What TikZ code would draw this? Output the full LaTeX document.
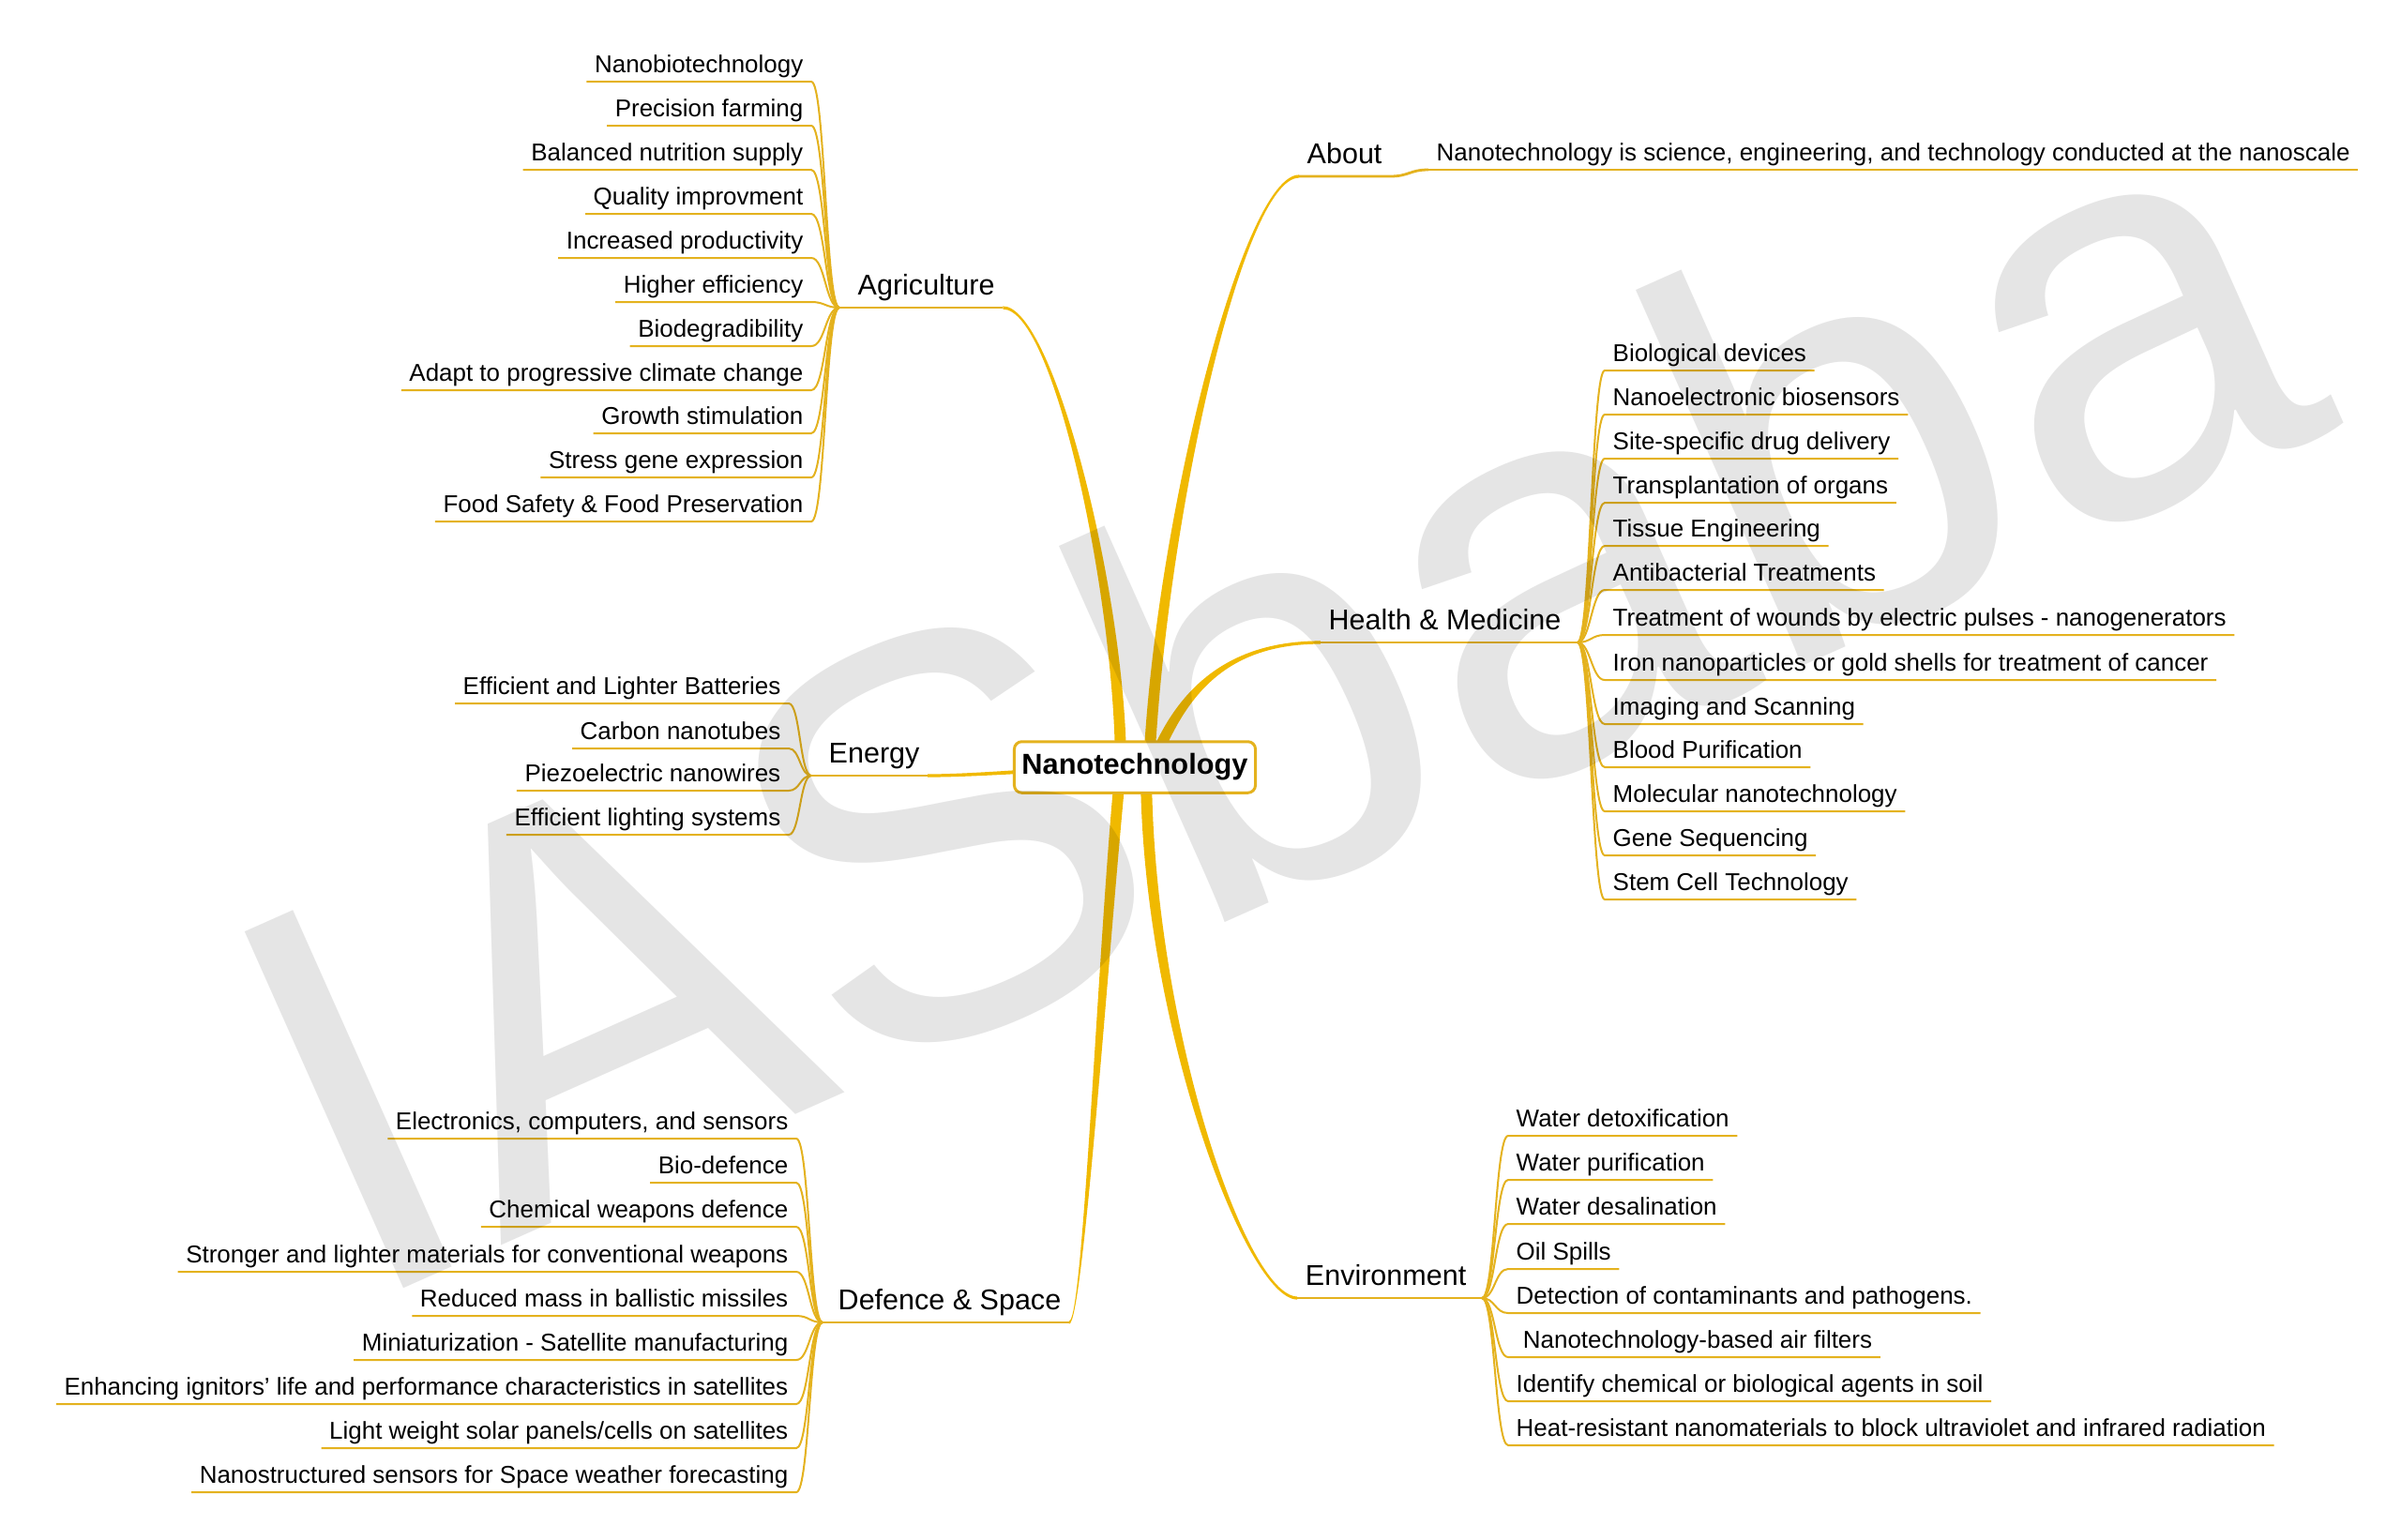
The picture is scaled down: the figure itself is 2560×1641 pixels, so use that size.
\documentclass[tikz,border=0pt]{standalone}
\usepackage{fontspec}
\setmainfont{Liberation Sans}
\usetikzlibrary{calc}

\definecolor{mmgold}{RGB}{240,185,0}
\definecolor{mmline}{RGB}{228,178,30}

\newcommand{\leaffont}{\fontsize{7.38}{8.8}\selectfont}
\newcommand{\topicfont}{\fontsize{8.68}{10.4}\selectfont}
\newcommand{\hubfont}{\fontsize{8.75}{10.5}\selectfont\bfseries}

% tapered main branch: label end, control (rel. to end), control (rel. to root), root, half width at root
\newcommand{\gbranch}[5]{%
  \fill[mmgold] ($(#1)+(0,-1.6)$) .. controls ($(#1)+(#2)+(0,-1.6)$) and ($(#4)+(#3)+(#5)$) .. ($(#4)+(#5)$)
    -- ($(#4)-(#5)$) .. controls ($(#4)+(#3)-(#5)$) and ($(#1)+(#2)+(0,1.6)$) .. ($(#1)+(0,1.6)$) -- cycle;}

\tikzset{
  leaf/.style={font=\leaffont, inner xsep=0.08cm, inner ysep=0.02cm, text height=0.194cm, text depth=0.065cm},
  leafline/.style={draw=mmline, line width=0.02cm},
  topic/.style={font=\topicfont, inner xsep=0.08cm, inner ysep=0.05cm, text height=0.229cm, text depth=0.076cm},
  topicline/.style={draw=mmline, line width=0.028cm},
  hubbox/.style={font=\hubfont, draw=mmline, line width=0.03cm, fill=white, rounded corners=0.08cm,
    inner xsep=0.08cm, inner ysep=0.12cm, text height=0.229cm, text depth=0.076cm}
}

\begin{document}
\begin{tikzpicture}[x=0.01cm, y=-0.01cm]
  \fill[white] (0,0) rectangle (2560,1641);
  \useasboundingbox (0,0) rectangle (2560,1641);

  % Hub and branch roots
  \coordinate (hub) at (1210,818);
  \coordinate (agrR) at ($(hub)+(-15,0)$);
  \coordinate (aboR) at ($(hub)+(15,0)$);
  \coordinate (heaR) at ($(hub)+(18,0)$);
  \coordinate (envR) at ($(hub)+(12,0)$);
  \coordinate (defR) at ($(hub)+(-15,0)$);
  \coordinate (enR) at ($(hub)+(-10,0)$);

  % Topic labels
  \node[topic, anchor=south west] (agr) at (906,328) {Agriculture};
  \coordinate (agrJ) at (895,328);
  \node[topic, anchor=south west] (about) at (1385,188) {About};
  \node[leaf, anchor=south west] (desc) at (1523,181) {Nanotechnology is science, engineering, and technology conducted at the nanoscale};
  \node[topic, anchor=south east] (hea) at (1673,685) {Health \& Medicine};
  \coordinate (heaJ) at (1682,685);
  \node[topic, anchor=south west] (en) at (875,827) {Energy};
  \coordinate (enJ) at (865,827);
  \node[topic, anchor=south east] (env) at (1572,1384) {Environment};
  \coordinate (envJ) at (1580,1384);
  \node[topic, anchor=south west] (def) at (885,1410) {Defence \& Space};
  \coordinate (defJ) at (877,1410);

  % Drawing main branches
  \gbranch{agr.south east}{55,0}{0,-178}{agrR}{6,0}
  \gbranch{about.south west}{-60,0}{12,-260}{aboR}{-6,0}
  \gbranch{hea.south west}{-100,0}{30,-80}{heaR}{-5.5,-2.3}
  \gbranch{env.south west}{-55,0}{0,270}{envR}{6,0}
  \gbranch{def.south east}{15,0}{-18,180}{defR}{-6,0}
  \gbranch{en.south east}{60,0}{-60,0}{enR}{0,-2.5}

  % Topic underlines
  \draw[topicline] (agrJ) -- (agr.south east);
  \draw[topicline] (about.south west) -- (about.south east) .. controls +(20,0) and +(-20,0) .. (desc.south west);
  \draw[leafline] (desc.south west) -- (desc.south east);
  \draw[topicline] (hea.south west) -- (heaJ);
  \draw[topicline] (enJ) -- (en.south east);
  \draw[topicline] (env.south west) -- (envJ);
  \draw[topicline] (defJ) -- (def.south east);

  % Agriculture leaves
  \node[leaf, anchor=south east] (a1) at (865,87) {Nanobiotechnology};
  \node[leaf, anchor=south east] (a2) at (865,134) {Precision farming};
  \node[leaf, anchor=south east] (a3) at (865,181) {Balanced nutrition supply};
  \node[leaf, anchor=south east] (a4) at (865,228) {Quality improvment};
  \node[leaf, anchor=south east] (a5) at (865,275) {Increased productivity};
  \node[leaf, anchor=south east] (a6) at (865,322) {Higher efficiency};
  \node[leaf, anchor=south east] (a7) at (865,369) {Biodegradibility};
  \node[leaf, anchor=south east] (a8) at (865,416) {Adapt to progressive climate change};
  \node[leaf, anchor=south east] (a9) at (865,462) {Growth stimulation};
  \node[leaf, anchor=south east] (a10) at (865,509) {Stress gene expression};
  \node[leaf, anchor=south east] (a11) at (865,556) {Food Safety \& Food Preservation};
  \draw[leafline] (a1.south west) -- (a1.south east) .. controls +(15,0) and +(-15,0) .. (agrJ);
  \draw[leafline] (a2.south west) -- (a2.south east) .. controls +(15,0) and +(-15,0) .. (agrJ);
  \draw[leafline] (a3.south west) -- (a3.south east) .. controls +(15,0) and +(-15,0) .. (agrJ);
  \draw[leafline] (a4.south west) -- (a4.south east) .. controls +(15,0) and +(-15,0) .. (agrJ);
  \draw[leafline] (a5.south west) -- (a5.south east) .. controls +(15,0) and +(-15,0) .. (agrJ);
  \draw[leafline] (a6.south west) -- (a6.south east) .. controls +(15,0) and +(-15,0) .. (agrJ);
  \draw[leafline] (a7.south west) -- (a7.south east) .. controls +(15,0) and +(-15,0) .. (agrJ);
  \draw[leafline] (a8.south west) -- (a8.south east) .. controls +(15,0) and +(-15,0) .. (agrJ);
  \draw[leafline] (a9.south west) -- (a9.south east) .. controls +(15,0) and +(-15,0) .. (agrJ);
  \draw[leafline] (a10.south west) -- (a10.south east) .. controls +(15,0) and +(-15,0) .. (agrJ);
  \draw[leafline] (a11.south west) -- (a11.south east) .. controls +(15,0) and +(-15,0) .. (agrJ);

  % Energy leaves
  \node[leaf, anchor=south east] (e1) at (841,750) {Efficient and Lighter Batteries};
  \node[leaf, anchor=south east] (e2) at (841,798) {Carbon nanotubes};
  \node[leaf, anchor=south east] (e3) at (841,843) {Piezoelectric nanowires};
  \node[leaf, anchor=south east] (e4) at (841,890) {Efficient lighting systems};
  \draw[leafline] (e1.south west) -- (e1.south east) .. controls +(12,0) and +(-12,0) .. (enJ);
  \draw[leafline] (e2.south west) -- (e2.south east) .. controls +(12,0) and +(-12,0) .. (enJ);
  \draw[leafline] (e3.south west) -- (e3.south east) .. controls +(12,0) and +(-12,0) .. (enJ);
  \draw[leafline] (e4.south west) -- (e4.south east) .. controls +(12,0) and +(-12,0) .. (enJ);

  % Defence & Space leaves
  \node[leaf, anchor=south east] (d1) at (849,1214) {Electronics, computers, and sensors};
  \node[leaf, anchor=south east] (d2) at (849,1261) {Bio-defence};
  \node[leaf, anchor=south east] (d3) at (849,1308) {Chemical weapons defence};
  \node[leaf, anchor=south east] (d4) at (849,1356) {Stronger and lighter materials for conventional weapons};
  \node[leaf, anchor=south east] (d5) at (849,1403) {Reduced mass in ballistic missiles};
  \node[leaf, anchor=south east] (d6) at (849,1450) {Miniaturization - Satellite manufacturing};
  \node[leaf, anchor=south east] (d7) at (849,1497) {Enhancing ignitors’ life and performance characteristics in satellites};
  \node[leaf, anchor=south east] (d8) at (849,1544) {Light weight solar panels/cells on satellites};
  \node[leaf, anchor=south east] (d9) at (849,1591) {Nanostructured sensors for Space weather forecasting};
  \draw[leafline] (d1.south west) -- (d1.south east) .. controls +(14,0) and +(-14,0) .. (defJ);
  \draw[leafline] (d2.south west) -- (d2.south east) .. controls +(14,0) and +(-14,0) .. (defJ);
  \draw[leafline] (d3.south west) -- (d3.south east) .. controls +(14,0) and +(-14,0) .. (defJ);
  \draw[leafline] (d4.south west) -- (d4.south east) .. controls +(14,0) and +(-14,0) .. (defJ);
  \draw[leafline] (d5.south west) -- (d5.south east) .. controls +(14,0) and +(-14,0) .. (defJ);
  \draw[leafline] (d6.south west) -- (d6.south east) .. controls +(14,0) and +(-14,0) .. (defJ);
  \draw[leafline] (d7.south west) -- (d7.south east) .. controls +(14,0) and +(-14,0) .. (defJ);
  \draw[leafline] (d8.south west) -- (d8.south east) .. controls +(14,0) and +(-14,0) .. (defJ);
  \draw[leafline] (d9.south west) -- (d9.south east) .. controls +(14,0) and +(-14,0) .. (defJ);

  % Health & Medicine leaves
  \node[leaf, anchor=south west] (h1) at (1711,395) {Biological devices};
  \node[leaf, anchor=south west] (h2) at (1711,442) {Nanoelectronic biosensors};
  \node[leaf, anchor=south west] (h3) at (1711,489) {Site-specific drug delivery};
  \node[leaf, anchor=south west] (h4) at (1711,536) {Transplantation of organs};
  \node[leaf, anchor=south west] (h5) at (1711,582) {Tissue Engineering};
  \node[leaf, anchor=south west] (h6) at (1711,629) {Antibacterial Treatments};
  \node[leaf, anchor=south west] (h7) at (1711,677) {Treatment of wounds by electric pulses - nanogenerators};
  \node[leaf, anchor=south west] (h8) at (1711,725) {Iron nanoparticles or gold shells for treatment of cancer};
  \node[leaf, anchor=south west] (h9) at (1711,772) {Imaging and Scanning};
  \node[leaf, anchor=south west] (h10) at (1711,818) {Blood Purification};
  \node[leaf, anchor=south west] (h11) at (1711,865) {Molecular nanotechnology};
  \node[leaf, anchor=south west] (h12) at (1711,912) {Gene Sequencing};
  \node[leaf, anchor=south west] (h13) at (1711,959) {Stem Cell Technology};
  \draw[leafline] (heaJ) .. controls +(14,0) and +(-14,0) .. (h1.south west) -- (h1.south east);
  \draw[leafline] (heaJ) .. controls +(14,0) and +(-14,0) .. (h2.south west) -- (h2.south east);
  \draw[leafline] (heaJ) .. controls +(14,0) and +(-14,0) .. (h3.south west) -- (h3.south east);
  \draw[leafline] (heaJ) .. controls +(14,0) and +(-14,0) .. (h4.south west) -- (h4.south east);
  \draw[leafline] (heaJ) .. controls +(14,0) and +(-14,0) .. (h5.south west) -- (h5.south east);
  \draw[leafline] (heaJ) .. controls +(14,0) and +(-14,0) .. (h6.south west) -- (h6.south east);
  \draw[leafline] (heaJ) .. controls +(14,0) and +(-14,0) .. (h7.south west) -- (h7.south east);
  \draw[leafline] (heaJ) .. controls +(14,0) and +(-14,0) .. (h8.south west) -- (h8.south east);
  \draw[leafline] (heaJ) .. controls +(14,0) and +(-14,0) .. (h9.south west) -- (h9.south east);
  \draw[leafline] (heaJ) .. controls +(14,0) and +(-14,0) .. (h10.south west) -- (h10.south east);
  \draw[leafline] (heaJ) .. controls +(14,0) and +(-14,0) .. (h11.south west) -- (h11.south east);
  \draw[leafline] (heaJ) .. controls +(14,0) and +(-14,0) .. (h12.south west) -- (h12.south east);
  \draw[leafline] (heaJ) .. controls +(14,0) and +(-14,0) .. (h13.south west) -- (h13.south east);

  % Environment leaves
  \node[leaf, anchor=south west] (v1) at (1608,1211) {Water detoxification};
  \node[leaf, anchor=south west] (v2) at (1608,1258) {Water purification};
  \node[leaf, anchor=south west] (v3) at (1608,1305) {Water desalination};
  \node[leaf, anchor=south west] (v4) at (1608,1353) {Oil Spills};
  \node[leaf, anchor=south west] (v5) at (1608,1400) {Detection of contaminants and pathogens.};
  \node[leaf, anchor=south west] (v6) at (1608,1447) {\ Nanotechnology-based air filters};
  \node[leaf, anchor=south west] (v7) at (1608,1494) {Identify chemical or biological agents in soil};
  \node[leaf, anchor=south west] (v8) at (1608,1541) {Heat-resistant nanomaterials to block ultraviolet and infrared radiation};
  \draw[leafline] (envJ) .. controls +(14,0) and +(-14,0) .. (v1.south west) -- (v1.south east);
  \draw[leafline] (envJ) .. controls +(14,0) and +(-14,0) .. (v2.south west) -- (v2.south east);
  \draw[leafline] (envJ) .. controls +(14,0) and +(-14,0) .. (v3.south west) -- (v3.south east);
  \draw[leafline] (envJ) .. controls +(14,0) and +(-14,0) .. (v4.south west) -- (v4.south east);
  \draw[leafline] (envJ) .. controls +(14,0) and +(-14,0) .. (v5.south west) -- (v5.south east);
  \draw[leafline] (envJ) .. controls +(14,0) and +(-14,0) .. (v6.south west) -- (v6.south east);
  \draw[leafline] (envJ) .. controls +(14,0) and +(-14,0) .. (v7.south west) -- (v7.south east);
  \draw[leafline] (envJ) .. controls +(14,0) and +(-14,0) .. (v8.south west) -- (v8.south east);

  % Hub box
  \node[hubbox] (nano) at (hub) {Nanotechnology};

  % Watermark
  \node[font=\fontsize{172}{172}\selectfont, rotate=24, text=black, text opacity=0.1, inner sep=0] (wm) at (1352,727) {IASbaba};
\end{tikzpicture}
\end{document}
